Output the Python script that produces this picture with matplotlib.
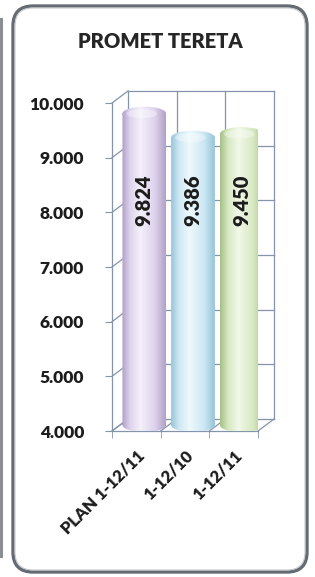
import numpy as np
import matplotlib
matplotlib.use('Agg')
import matplotlib.pyplot as plt
from matplotlib import transforms
from matplotlib.patches import FancyBboxPatch, Rectangle, Ellipse, PathPatch
from matplotlib.path import Path
from matplotlib.colors import LinearSegmentedColormap

title = 'PROMET TERETA'
categories = ['PLAN 1-12/11', '1-12/10', '1-12/11']
values = [9824, 9386, 9450]
value_labels = ['9.824', '9.386', '9.450']
yticks = [4000, 5000, 6000, 7000, 8000, 9000, 10000]
ytick_labels = ['4.000', '5.000', '6.000', '7.000', '8.000', '9.000', '10.000']

# edge / body / highlight for each cylinder
bar_colors = [
    ('#b0a0c6', '#ddd3ec', '#f4f0f9'),
    ('#98c4d8', '#cde8f4', '#eef8fc'),
    ('#a5bf86', '#d7e8c1', '#f1f8e8'),
]
GRID = '#8394ab'
TXT = '#1c1c1c'

plt.rcParams['font.family'] = ['Lato', 'DejaVu Sans']

W, H = 315, 577
fig = plt.figure(figsize=(W / 100, H / 100), dpi=100)
fig.patch.set_facecolor('white')

# background: rounded panel
bg = fig.add_axes([0, 0, 1, 1], zorder=0)
bg.set_xlim(0, W)
bg.set_ylim(H, 0)
bg.axis('off')
bg.add_patch(FancyBboxPatch((13, 6), 294, 566, boxstyle='round,pad=0,rounding_size=20',
                            fc='white', ec='#656b72', lw=2.4))
bg.add_patch(FancyBboxPatch((15, 8), 290, 562, boxstyle='round,pad=0,rounding_size=18',
                            fc='none', ec='#c4c8cc', lw=0.8))
bg.add_patch(Rectangle((0, 18), 2.5, 540, fc='#8a8f95', ec='none'))
bg.text(160, 42, title, ha='center', va='center', fontsize=14.5, fontweight='heavy', color='#262626')

ax = fig.add_axes([112 / W, 1 - 431 / H, 146 / W, 328 / H], zorder=1)
ax.set_facecolor('none')
ax.set_xlim(-0.5, 2.5)
ax.set_ylim(4000, 10000)

# 3d depth offset in pixels
DX, DY = 16, 12


def off(f):
    return transforms.ScaledTranslation(f * DX / 100, f * DY / 100, fig.dpi_scale_trans)


back = ax.transData + off(1)
mid = ax.transData + off(0.5)

bounds = np.arange(-0.5, 3, 1)
for y in yticks:
    ax.plot([-0.5, 2.5], [y, y], transform=back, color=GRID, lw=0.9, zorder=1, clip_on=False)
for b in bounds:
    ax.plot([b, b], [4000, 10000], transform=back, color=GRID, lw=0.9, zorder=1, clip_on=False)


def diag(x, y):
    p0 = ax.transData.transform((x, y))
    p1 = back.transform((x, y))
    q = fig.transFigure.inverted().transform([p0, p1])
    ax.plot(q[:, 0], q[:, 1], transform=fig.transFigure, color=GRID, lw=0.9, zorder=1, clip_on=False)


for y in yticks:
    diag(-0.5, y)
for b in bounds:
    diag(b, 4000)

# cylinders
w = 0.9
px_per_unit = ax.transData.transform((0, 1000))[1] - ax.transData.transform((0, 0))[1]
cap = 7 * 1000 / px_per_unit
grad = np.linspace(0, 1, 256).reshape(1, -1)

for i, (v, cols) in enumerate(zip(values, bar_colors)):
    x0 = i - w / 2
    top = v - cap
    parts = [Rectangle((x0, 4000), w, top - 4000),
             Ellipse((i, top), w, 2 * cap),
             Ellipse((i, 4000), w, 2 * cap)]
    path = Path.make_compound_path(*[p.get_path().transformed(p.get_patch_transform()) for p in parts])
    pp = PathPatch(path, transform=mid, fc='none', ec='none', zorder=3)
    ax.add_patch(pp)
    cmap = LinearSegmentedColormap.from_list(
        f'cyl{i}', [(0, cols[0]), (0.18, cols[1]), (0.42, cols[2]), (0.75, cols[1]), (1, cols[0])])
    im = ax.imshow(grad, cmap=cmap, extent=(x0, x0 + w, 4000 - cap, v), transform=mid,
                   aspect='auto', zorder=3, interpolation='bilinear')
    im.set_clip_path(pp)
    ax.add_patch(Ellipse((i - 0.05, top), w * 0.7, 1.3 * cap, transform=mid,
                         fc='white', ec='none', alpha=0.35, zorder=4))
    ax.text(i, 0.686, value_labels[i], rotation=90, ha='center', va='center',
            fontsize=14.5, fontweight='heavy', color=TXT, zorder=5,
            transform=transforms.blended_transform_factory(ax.transData, ax.transAxes) + off(0.5))

ax.set_xlim(-0.5, 2.5)
ax.set_ylim(4000, 10000)

for s in ['top', 'right']:
    ax.spines[s].set_visible(False)
for s in ['left', 'bottom']:
    ax.spines[s].set_color(GRID)
    ax.spines[s].set_linewidth(0.9)

ax.set_yticks(yticks, ytick_labels)
ax.tick_params(axis='y', length=5, color=GRID, pad=15, labelsize=12.5, labelcolor=TXT)
for t in ax.get_yticklabels():
    t.set_fontweight('heavy')

ax.set_xticks(range(len(categories)), categories, rotation=45, ha='right', rotation_mode='anchor')
ax.set_xticks(bounds, minor=True)
ax.tick_params(axis='x', which='major', length=0, pad=12, labelsize=12, labelcolor=TXT)
ax.tick_params(axis='x', which='minor', length=5, color=GRID)
for t in ax.get_xticklabels():
    t.set_fontweight('heavy')

fig.savefig('out.png', dpi=100, facecolor='white')
